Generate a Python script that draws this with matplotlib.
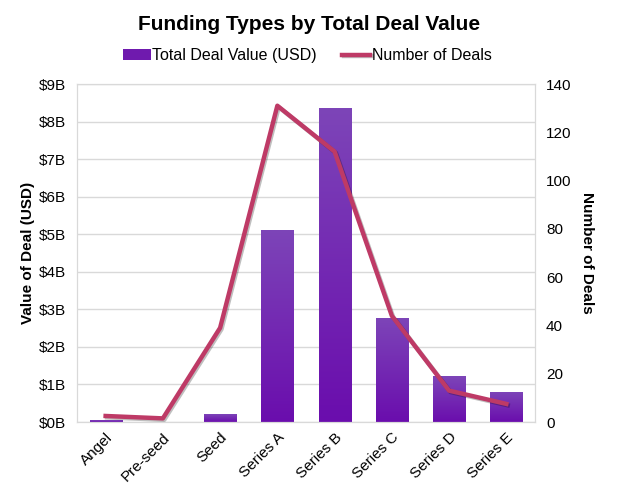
import numpy as np
import matplotlib.pyplot as plt
from matplotlib.ticker import FuncFormatter
from matplotlib.colors import LinearSegmentedColormap
import matplotlib.patheffects as pe

plt.rcParams['font.family'] = ['Liberation Sans', 'DejaVu Sans']

stages = ['Angel', 'Pre-seed', 'Seed', 'Series A', 'Series B', 'Series C', 'Series D', 'Series E']
deal_value_b = [0.05, 0.0, 0.21, 5.12, 8.36, 2.77, 1.22, 0.8]
num_deals = [2.5, 1.5, 39, 131, 112, 44, 13, 7.5]

fig = plt.figure(figsize=(6.18, 4.93), dpi=100)
ax = fig.add_axes([0.1246, 0.144, 0.741, 0.6856])
ax2 = ax.twinx()

x = np.arange(len(stages))
bars = ax.bar(x, deal_value_b, width=0.56, color='#6F1AAE', zorder=2, label='Total Deal Value (USD)')

# vertical gradient on the bars
grad = np.linspace(0, 1, 256).reshape(-1, 1)
cmap = LinearSegmentedColormap.from_list('bar', ['#6A0DAD', '#7D45B8'])
for b in bars:
    h = b.get_height()
    if h <= 0:
        continue
    im = ax.imshow(grad, extent=[b.get_x(), b.get_x() + b.get_width(), 0, h],
                   origin='lower', aspect='auto', cmap=cmap, zorder=2.5)
    im.set_clip_path(b)

ax.set_xlim(-0.5, len(stages) - 0.5)
ax.set_ylim(0, 9)
ax.set_yticks(range(0, 10))
ax.yaxis.set_major_formatter(FuncFormatter(lambda v, p: '$%dB' % v))
ax.grid(axis='y', color='#D9D9D9', linewidth=1, zorder=0)
ax.set_axisbelow(True)

line, = ax2.plot(x, num_deals, color='#BE3A66', linewidth=3.2, zorder=3, label='Number of Deals',
                 path_effects=[pe.SimpleLineShadow(offset=(1, -1), alpha=0.25), pe.Normal()])
ax2.set_ylim(0, 140)
ax2.set_yticks(range(0, 141, 20))

for a in (ax, ax2):
    for s in a.spines.values():
        s.set_color('#D9D9D9')
    a.tick_params(length=0, labelsize=11, colors='#000000')

ax.set_xticks(x)
ax.set_xticklabels(stages, rotation=45, ha='right', rotation_mode='anchor')
ax.tick_params(axis='x', pad=6)
ax.tick_params(axis='y', pad=8)
ax2.tick_params(axis='y', pad=8)

ax.set_ylabel('Value of Deal (USD)', fontsize=11, fontweight='bold', labelpad=3)
ax2.set_ylabel('Number of Deals', fontsize=11, fontweight='bold', rotation=-90, labelpad=16)

fig.suptitle('Funding Types by Total Deal Value', fontsize=15, fontweight='bold', y=0.97)

fig.legend(handles=[bars, line], loc='center', bbox_to_anchor=(0.497, 0.887), ncol=2, frameon=False,
           fontsize=11.5, handlelength=1.75, handletextpad=0.1, columnspacing=1.6)

fig.savefig('out.png', dpi=100)
